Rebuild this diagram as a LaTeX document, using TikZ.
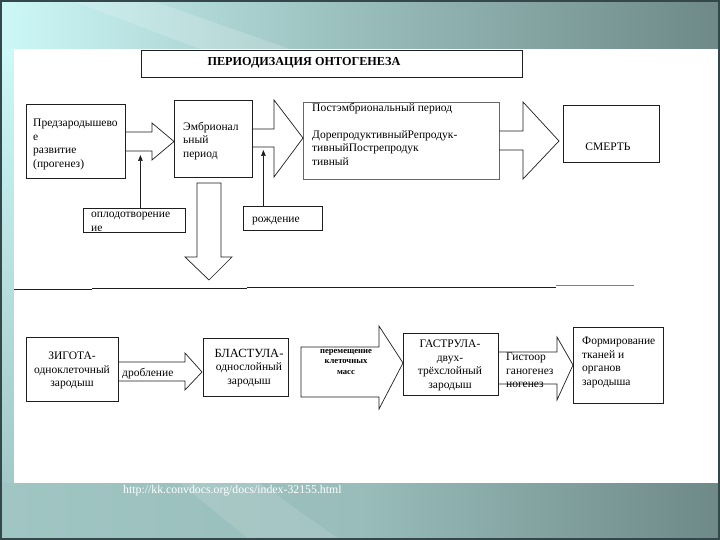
\documentclass[tikz,border=0pt]{standalone}
\usepackage{fontspec}
\setmainfont{Liberation Serif}
\usetikzlibrary{positioning,arrows.meta}

\definecolor{slidelight}{HTML}{CDF8F8}
\definecolor{slidemid}{HTML}{98BDBB}
\definecolor{slidedark}{HTML}{6E8987}
\definecolor{slideedge}{HTML}{34474A}
\definecolor{inkgrey}{HTML}{1E1E1E}

% block arrow: shaft x0->x1, shaft top/bottom, head top/bottom, tip x, tip y
\newcommand{\blockarrow}[8]{%
    \draw[bigarrow] (#1,#3) -- (#2,#3) -- (#2,#5) -- (#7,#8) -- (#2,#6) -- (#2,#4) -- (#1,#4);}

\begin{document}
\begin{tikzpicture}[
    x=1pt, y=-1pt,
    stagebox/.style={
        draw=inkgrey,
        line width=0.8pt,
        anchor=north west,
        inner sep=0pt
    },
    bigarrow/.style={draw=inkgrey, line width=0.7pt},
    pointer/.style={-{Triangle[length=6pt, width=4.5pt]}, line width=0.7pt, draw=inkgrey},
    txt/.style={
        inner sep=0pt,
        align=left,
        anchor=north west,
        font={\fontsize{11.5}{13.5}\selectfont}
    },
    ctxt/.style={txt, align=center, anchor=north}
]

% slide background
\useasboundingbox (0,0) rectangle (720,540);
\shade[left color=slidelight, right color=slidedark, middle color=slidemid] (0,0) rectangle (720,49);
\fill[white, opacity=0.18] (70,0) -- (150,0) -- (290,49) -- (200,49) -- cycle;
\shade[top color=slidelight, bottom color=slidemid!80!slidelight] (0,49) rectangle (14,483);
\shade[left color=slidemid!85!slidelight, right color=slidedark, middle color=slidemid] (0,483) rectangle (720,540);
\fill[white, opacity=0.12] (180,483) -- (260,483) -- (340,540) -- (250,540) -- cycle;
\fill[white] (14,49) rectangle (720,483);
\draw[slideedge, line width=2pt] (1,1) rectangle (719,539);

% title
\node[stagebox, minimum width=381pt, minimum height=26.7pt] (title) at (141,50) {};
\node[inner sep=0pt, font={\fontsize{12.2}{13}\selectfont\bfseries}] (titletext) at (304,63)
    {ПЕРИОДИЗАЦИЯ ОНТОГЕНЕЗА};

% upper row
\node[stagebox, minimum width=99pt, minimum height=74pt] (pre) at (26,104) {};
\node[stagebox, minimum width=78pt, minimum height=77pt] (emb) at (174,100) {};
\node[stagebox, minimum width=196pt, minimum height=77pt, draw=black!60] (post) at (303,102) {};
\node[stagebox, minimum width=96pt, minimum height=57pt] (death) at (563,105) {};
\node[stagebox, minimum width=102pt, minimum height=24pt] (fert) at (83,208) {};
\node[stagebox, minimum width=79pt, minimum height=24pt] (birth) at (243,206) {};

\node[txt] (pretext) at (33,119) {Предзародышево\\е\\развитие\\(прогенез)};
\node[txt] (embtext) at (183,122) {Эмбрионал\\ьный\\период};
\node[txt] (posttext) at (312,103)
    {Постэмбриональный период\\\mbox{}\\ДорепродуктивныйРепродук-\\тивныйПострепродук\\тивный};
\node[inner sep=0pt, font={\fontsize{11.5}{13}\selectfont}] (deathtext) at (608,147) {СМЕРТЬ};
\node[txt] (ferttext) at (91,212) {оплодотворение\\ие};
\node[txt] (birthtext) at (252,217) {рождение};

\blockarrow{125}{152}{132}{151}{123}{160}{174}{141.5}
\blockarrow{252}{274}{129}{147}{100}{177}{303}{138}
\blockarrow{499}{523}{131}{150}{102}{179}{559}{141}

\draw[pointer] ([xshift=6pt]fert.north) -- ++(0,-53);
\draw[pointer] ([xshift=-19.5pt]birth.north) -- ++(0,-56);

% transition down
\draw[bigarrow] (197,257) -- (197,183) -- (221,183) -- (221,257) -- (232,257) -- (209,280) -- (185,257) -- cycle;

% divider
\draw[inkgrey, line width=0.8pt] (14,289.3) -- (92,289.3) (92,288.4) -- (246.5,288.4)
    (246.5,287.7) -- (402,287.7) (402,287) -- (556,287);
\draw[black!50, line width=0.8pt] (556,285.8) -- (634,285.8);

% lower row
\node[stagebox, minimum width=92pt, minimum height=64pt] (zyg) at (26,337) {};
\node[stagebox, minimum width=85pt, minimum height=58pt] (blast) at (203,338) {};
\node[stagebox, minimum width=95pt, minimum height=62pt] (gast) at (403,333) {};
\node[stagebox, minimum width=90pt, minimum height=76pt] (form) at (573,327) {};

\node[ctxt] (zygtext) at (72,352) {ЗИГОТА-\\одноклеточный\\зародыш};
\node[ctxt] (blasttext) at (249,349) {{\fontsize{12.5}{13.5}\selectfont БЛАСТУЛА-}\\однослойный\\зародыш};
\node[ctxt] (gasttext) at (450,340) {ГАСТРУЛА-\\двух-\\трёхслойный\\зародыш};
\node[txt] (formtext) at (582,337) {Формирование\\тканей и\\органов\\зародыша};

\blockarrow{118}{185}{362}{381}{353}{390}{202}{372}
\draw[bigarrow] (301,347) -- (379,347) -- (379,326) -- (403,363) -- (379,409) -- (379,397) -- (301,397) -- cycle;
\blockarrow{498}{557}{352}{384}{337}{400}{573}{365}

\node[txt] (drobtext) at (122,368) {дробление};
\node[ctxt, font={\fontsize{8.6}{10.5}\selectfont\bfseries}] (movetext) at (346,349)
    {перемещение\\клеточных\\масс};
\node[txt] (histotext) at (506,353) {Гистоор\\ганогенез\\ногенез};

% source
\node[inner sep=0pt, anchor=west, text=white, font={\fontsize{11.8}{12}\selectfont}] (source) at (123,491)
    {http://kk.convdocs.org/docs/index-32155.html};

\end{tikzpicture}
\end{document}
